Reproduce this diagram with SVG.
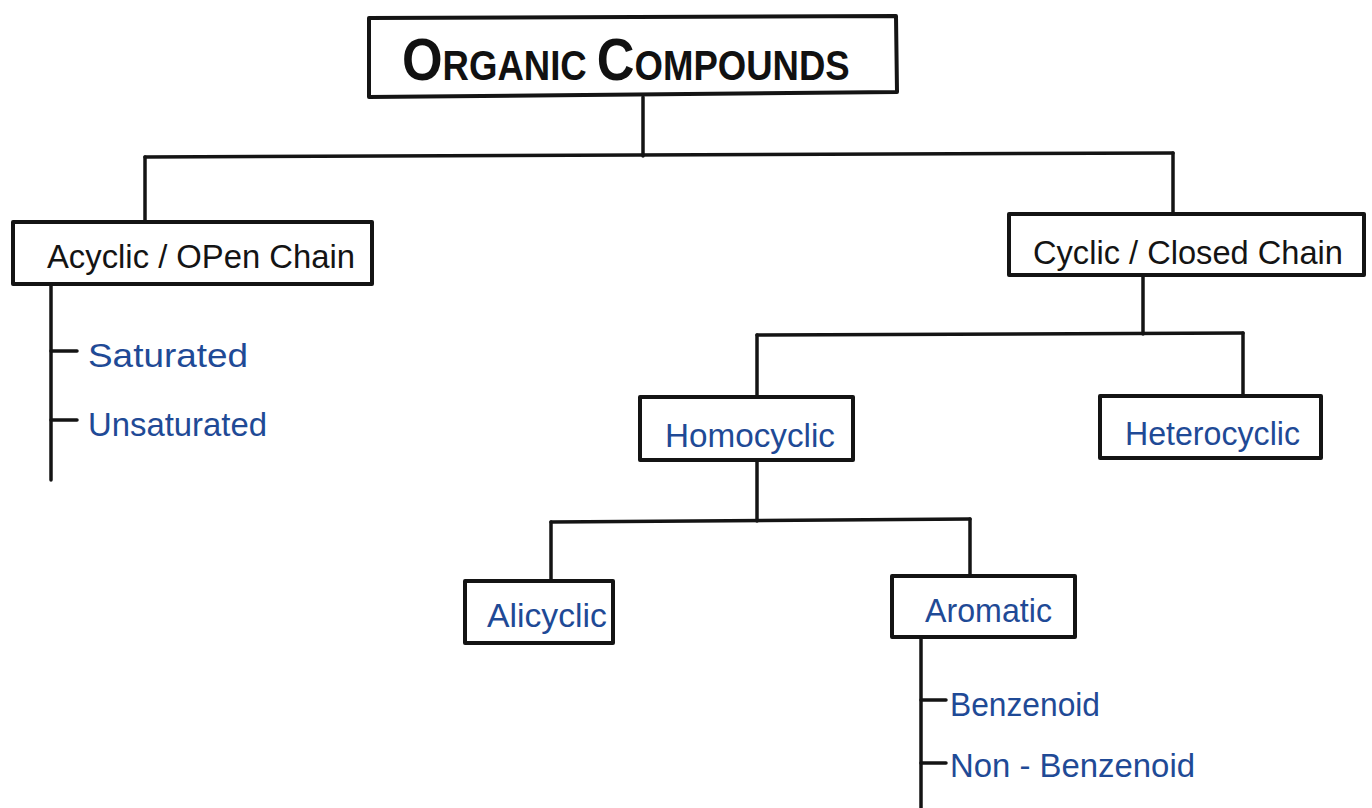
<svg xmlns="http://www.w3.org/2000/svg" width="1372" height="808" viewBox="0 0 1372 808">
<defs>
<style>
.box{fill:#fff;stroke:#141414;stroke-width:4;stroke-linejoin:round}
.ln{fill:none;stroke:#141414;stroke-width:3.5;stroke-linecap:round;stroke-linejoin:round}
.bk{font-family:"Liberation Sans","DejaVu Sans",sans-serif;font-size:34px;fill:#141414}
.bl{font-family:"Liberation Sans","DejaVu Sans",sans-serif;font-size:34px;fill:#1f4a96}
.ttl{font-family:"Liberation Sans","DejaVu Sans",sans-serif;font-weight:bold;fill:#111}
</style>
</defs>
<rect width="1372" height="808" fill="#fff"/>
<g id="connectors">
<path class="ln" d="M643,97 V156"/>
<path class="ln" d="M145,157 L1173,153"/>
<path class="ln" d="M145,157 V222"/>
<path class="ln" d="M1173,153 V214"/>
<path class="ln" d="M51,284 V480"/>
<path class="ln" d="M51,351 H77"/>
<path class="ln" d="M51,420 H77"/>
<path class="ln" d="M1143,275 V334"/>
<path class="ln" d="M757,335 L1243,333"/>
<path class="ln" d="M757,335 V397"/>
<path class="ln" d="M1243,333 V396"/>
<path class="ln" d="M757,460 V521"/>
<path class="ln" d="M551,522 L970,519"/>
<path class="ln" d="M551,522 V581"/>
<path class="ln" d="M970,519 V576"/>
<path class="ln" d="M921,637 V808"/>
<path class="ln" d="M921,700 H946"/>
<path class="ln" d="M921,763 H946"/>
</g>
<g id="organic-compounds">
<path class="box" d="M369,18 L896,16 L897,92 L369,97 Z"/>
<text class="ttl" transform="translate(402,80) scale(0.87,1)" x="0" y="0"><tspan font-size="60">O</tspan><tspan font-size="42">RGANIC </tspan><tspan font-size="60">C</tspan><tspan font-size="42">OMPOUNDS</tspan></text>
</g>
<g id="acyclic">
<rect class="box" x="13" y="222" width="359" height="62"/>
<text class="bk" x="47" y="268" textLength="308" lengthAdjust="spacingAndGlyphs">Acyclic / OPen Chain</text>
</g>
<g id="saturated">
<text class="bl" x="88" y="367" textLength="160" lengthAdjust="spacingAndGlyphs">Saturated</text>
</g>
<g id="unsaturated">
<text class="bl" x="88" y="436" textLength="179" lengthAdjust="spacingAndGlyphs">Unsaturated</text>
</g>
<g id="cyclic">
<rect class="box" x="1009" y="214" width="355" height="61"/>
<text class="bk" x="1033" y="264" textLength="310" lengthAdjust="spacingAndGlyphs">Cyclic / Closed Chain</text>
</g>
<g id="homocyclic">
<rect class="box" x="640" y="397" width="213" height="63"/>
<text class="bl" x="665" y="447" textLength="170" lengthAdjust="spacingAndGlyphs">Homocyclic</text>
</g>
<g id="heterocyclic">
<rect class="box" x="1100" y="396" width="221" height="62"/>
<text class="bl" x="1125" y="445" textLength="175" lengthAdjust="spacingAndGlyphs">Heterocyclic</text>
</g>
<g id="alicyclic">
<rect class="box" x="465" y="581" width="148" height="62"/>
<text class="bl" x="487" y="627" textLength="120" lengthAdjust="spacingAndGlyphs">Alicyclic</text>
</g>
<g id="aromatic">
<rect class="box" x="892" y="576" width="183" height="61"/>
<text class="bl" x="925" y="622" textLength="127" lengthAdjust="spacingAndGlyphs">Aromatic</text>
</g>
<g id="benzenoid">
<text class="bl" x="950" y="716" textLength="150" lengthAdjust="spacingAndGlyphs">Benzenoid</text>
</g>
<g id="non-benzenoid">
<text class="bl" x="950" y="777" textLength="245" lengthAdjust="spacingAndGlyphs">Non - Benzenoid</text>
</g>
</svg>
